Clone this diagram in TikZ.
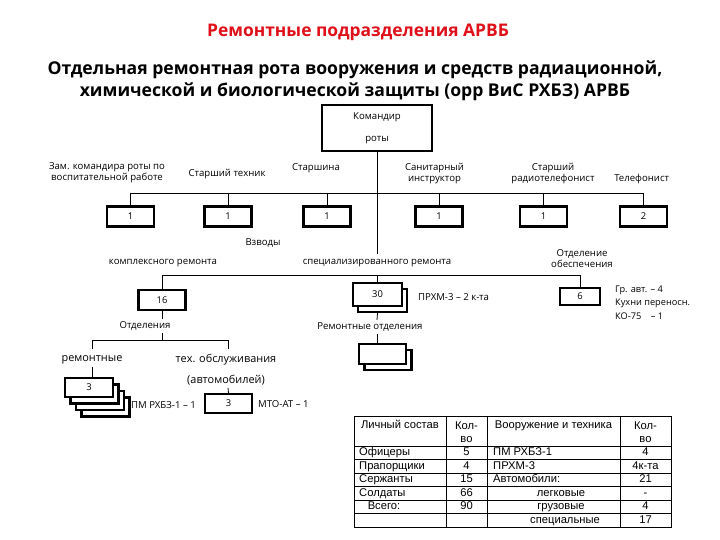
\documentclass[tikz,border=0pt]{standalone}
\usepackage{fontspec}
\setmainfont{Open Sans}
\newfontfamily\tabfont{Liberation Sans}
\definecolor{ttlred}{HTML}{E0101A}
\begin{document}
\begin{tikzpicture}[x=1pt,y=-1pt,
  sm/.style={font=\fontsize{9.6}{11}\selectfont,inner sep=0pt,align=center},
  md/.style={font=\fontsize{10.9}{12}\selectfont,inner sep=0pt,align=center},
  tb/.style={font=\tabfont\fontsize{11.2}{12}\selectfont,inner sep=0pt,text height=8pt,text depth=2.2pt},
  bx/.style={draw,line width=2.2pt,fill=white,minimum width=47pt,minimum height=20pt,inner sep=0pt,font=\fontsize{9.4}{10}\selectfont},
  conn/.style={line width=0.8pt}]
\useasboundingbox (0,0) rectangle (720,540);
% titles
\node[font=\bfseries\fontsize{17.4}{19}\selectfont,text=ttlred,inner sep=0pt] (t0) at (358,32) {Ремонтные подразделения АРВБ};
\node[font=\bfseries\fontsize{17.6}{22}\selectfont,inner sep=0pt,align=center] (t1) at (355,81) {Отдельная ремонтная рота вооружения и средств радиационной,\\химической и биологической защиты (орр ВиС РХБЗ) АРВБ};
% commander
\node[bx,minimum width=110pt,minimum height=46pt] (cmd) at (377,128) {};
\node[sm] (cmdA) at (377,117) {Командир};
\node[sm] (cmdB) at (377,140) {роты};
% staff
\coordinate (busL) at (130.5,193);
\coordinate (busR) at (643.5,193);
\draw[conn] (busL) -- (busR);
\node[bx] (s1) at (130.5,216.5) {1};
\node[bx] (s2) at (228,216.5) {1};
\node[bx] (s3) at (327,216.5) {1};
\node[bx] (s4) at (439,216.5) {1};
\node[bx] (s5) at (543.5,216.5) {1};
\node[bx] (s6) at (643.5,216.5) {2};
\foreach \s in {s1,s2,s3,s4,s5,s6}{\draw[conn] (\s.north |- busL) -- (\s.north);}
\node[sm] (l1) at (107,172.5) {Зам. командира роты по\\воспитательной работе};
\node[sm] (l2) at (227,174) {Старший техник};
\node[sm] (l3) at (316,168) {Старшина};
\node[sm] (l4) at (434.5,174) {Санитарный\\инструктор};
\node[sm] (l5) at (553,174) {Старший\\радиотелефонист};
\node[sm] (l6) at (641.7,179) {Телефонист};
% platoons
\coordinate (v1) at (377,254);
\draw[conn] (cmd.south) -- (v1);
\node[sm] (vz) at (263,243) {Взводы};
\node[sm] (pk) at (163,263) {комплексного ремонта};
\node[sm] (ps) at (377,263) {специализированного ремонта};
\node[sm] (po) at (582,258.5) {Отделение\\обеспечения};
\coordinate (b2L) at (162,275);
\coordinate (b2R) at (580,275);
\draw[conn] (b2L) -- (b2R);
\node[bx,minimum width=47pt,minimum height=20pt] (p16) at (162,300) {16};
\node[bx,minimum width=49pt,minimum height=23pt] (p30s) at (382.5,300.5) {};
\node[bx,minimum width=49pt,minimum height=23pt] (p30) at (377.5,294.5) {30};
\node[bx,minimum width=40pt,minimum height=17pt] (p6) at (580,296.5) {6};
\draw[conn] (b2L) -- (p16.north);
\draw[conn] (p30.north |- b2L) -- (p30.north);
\draw[conn] (b2R) -- (p6.north);
\node[sm,anchor=west] (prxm) at (418,297) {ПРХМ-3 – 2 к-та};
\node[sm,anchor=west,align=left,font=\fontsize{9.2}{13.5}\selectfont] (gr) at (615,302.5) {Гр. авт. – 4\\Кухни переносн.\\КО-75\ \ \ \ – 1};
% sections
\node[sm] (otd) at (145,326) {Отделения};
\coordinate (o1) at (162,318.5);
\coordinate (o2) at (162,333);
\draw[conn] (p16.south) -- (o1);
\coordinate (b3L) at (92,340);
\coordinate (b3R) at (228,340);
\coordinate (b3M) at (162,340);
\draw[conn] (o2) -- (b3M);
\draw[conn] (b3L) -- (b3R);
\coordinate (r1) at (92,349);
\coordinate (t1a) at (228,349);
\draw[conn] (b3L) -- (r1);
\draw[conn] (b3R) -- (t1a);
\node[md] (rem) at (92,360) {ремонтные};
\node[md] (teh) at (226,360) {тех. обслуживания};
\node[md] (avt) at (226,380) {(автомобилей)};
\node[bx,minimum width=48pt,minimum height=19pt] (r4) at (105.5,407) {};
\node[bx,minimum width=48pt,minimum height=19pt] (r3) at (100,400.5) {};
\node[bx,minimum width=48pt,minimum height=19pt] (r2) at (94.5,394) {};
\node[bx,minimum width=48pt,minimum height=19pt] (r1b) at (89,387.5) {3};
\coordinate (r1t) at (92,367);
\draw[conn] (r1t) -- (r1t |- r1b.north);
\node[sm,anchor=west] (pm) at (131,405) {ПМ РХБЗ-1 – 1};
\node[bx,minimum width=47pt,minimum height=19pt] (t3) at (228.5,403.5) {3};
\coordinate (t3t) at (228,388);
\draw[conn] (t3t) -- (t3.north);
\node[sm,anchor=west] (mto) at (258,404) {МТО-АТ – 1};
% repair sections
\node[sm] (ro) at (370,327) {Ремонтные отделения};
\coordinate (ro1) at (377,320);
\coordinate (ro2) at (377,334);
\draw[conn] (p30s.south -| p30.south) -- (ro1);
\node[bx,minimum width=47pt,minimum height=20pt] (rs2) at (388,360) {};
\node[bx,minimum width=47pt,minimum height=20pt] (rs1) at (382.5,354) {};
\draw[conn] (ro2) -- (ro2 |- rs1.north);
% table
\begin{scope}[line width=0.6pt]
\draw (354,416) rectangle (671,527);
\foreach \xx in {446,487,620}{\draw (\xx,416) -- (\xx,527);}
\foreach \yy in {446,459.5,473,486.5,500,513.5}{\draw (354,\yy) -- (671,\yy);}
\end{scope}
\node[tb] (h1) at (400,426) {Личный состав};
\node[tb,align=center,text height=,text depth=,font=\tabfont\fontsize{11.2}{13}\selectfont] (h2) at (466.5,432) {Кол-\\во};
\node[tb] (h3) at (553.5,426) {Вооружение и техника};
\node[tb,align=center,text height=,text depth=,font=\tabfont\fontsize{11.2}{13}\selectfont] (h4) at (645.5,432) {Кол-\\во};
\foreach \n/\yy in {Офицеры/452.75,Прапорщики/466.25,Сержанты/479.75,Солдаты/493.25}{\node[tb,anchor=west] at (359,\yy) {\n};}
\node[tb] at (384,506.75) {Всего:};
\foreach \n/\yy in {5/452.75,4/466.25,15/479.75,66/493.25,90/506.75}{\node[tb] at (466.5,\yy) {\n};}
\foreach \n/\yy in {ПМ РХБЗ-1/452.75,ПРХМ-3/466.25,Автомобили:/479.75}{\node[tb,anchor=west] at (493,\yy) {\n};}
\node[tb] at (561,493.25) {легковые};
\node[tb] at (561,506.75) {грузовые};
\node[tb] at (565,520.25) {специальные};
\foreach \n/\yy in {4/452.75,4к-та/466.25,21/479.75,-/493.25,4/506.75,17/520.25}{\node[tb] at (645.5,\yy) {\n};}
\end{tikzpicture}
\end{document}
